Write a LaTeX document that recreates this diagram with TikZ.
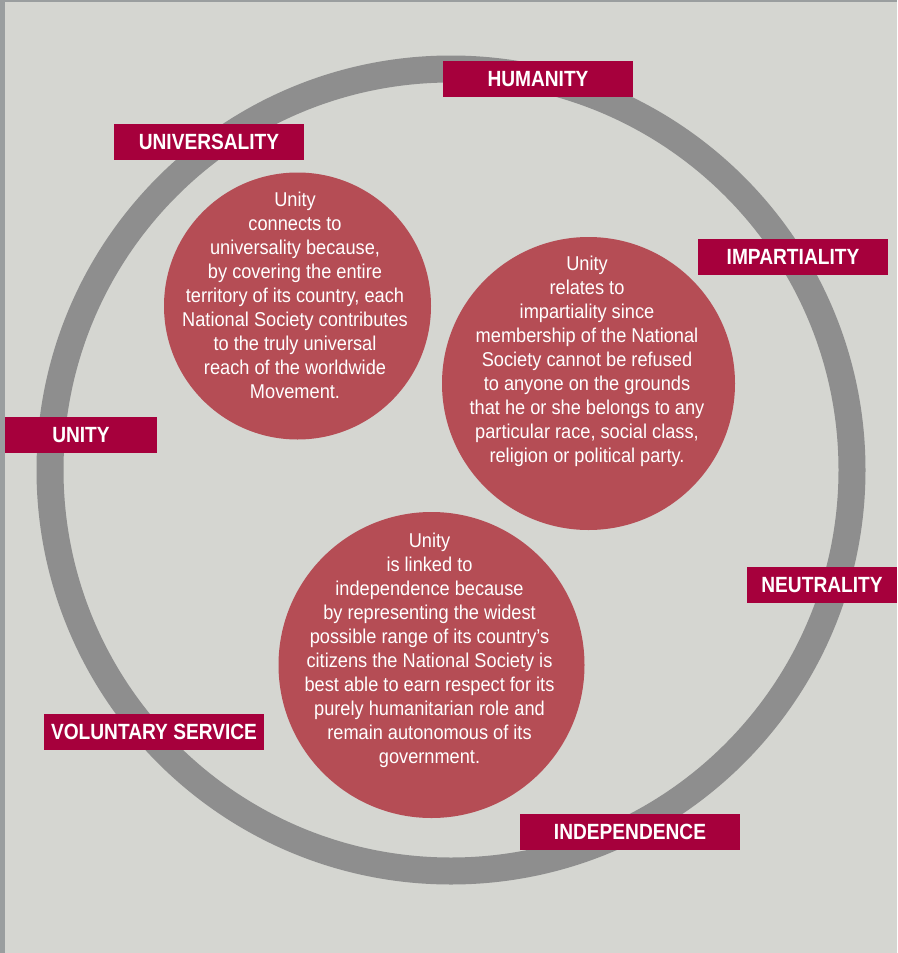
\documentclass[tikz,border=0pt]{standalone}
\usepackage{fontspec}
\newfontfamily\blurbfont{Liberation Sans}[FakeStretch=0.91]
\newfontfamily\tagfont{Liberation Sans}[FakeStretch=0.87]
\definecolor{paper}{HTML}{D5D6D1}
\definecolor{rim}{HTML}{9A9E9F}
\definecolor{ringgrey}{HTML}{8E8E8E}
\definecolor{bubblered}{HTML}{B54D55}
\definecolor{tagred}{HTML}{A6003C}

\begin{document}
\begin{tikzpicture}
            [x=1pt, y=-1pt,
            bubble/.style={circle, fill=bubblered, inner sep=0pt},
            blurb/.style={text=white, align=center, inner sep=0pt, anchor=north,
            font=\blurbfont\fontsize{20}{24}\selectfont},
            tag/.style={fill=tagred, text=white, inner sep=0pt,
            minimum height=36pt, text depth=0pt,
            font=\tagfont\bfseries\fontsize{22}{26}\selectfont},
            ring/.style={draw=ringgrey, line width=27pt}]
            \fill[paper] (0,0) rectangle (897,953);
            \fill[rim] (0,0) rectangle (5,953);
            \fill[rim] (0,0) rectangle (897,2);
            \coordinate (hub) at (451,470);
            \draw[ring] (hub) circle[radius=401pt];
            \node[bubble, minimum size=267pt] (univ) at (297.5,306) {};
            \node[bubble, minimum size=293pt] (impart) at (588.5,383.5) {};
            \node[bubble, minimum size=306pt] (indep) at (431.5,665) {};
            \node[blurb] (univtext) at (295,191.7) {Unity\\connects to\\universality because,\\
                by covering the entire\\territory of its country, each\\
                National Society contributes\\to the truly universal\\
                reach of the worldwide\\Movement.};
            \node[blurb] (imparttext) at (587,255.7) {Unity\\relates to\\impartiality since\\
                membership of the National\\Society cannot be refused\\
                to anyone on the grounds\\that he or she belongs to any\\
                particular race, social class,\\religion or political party.};
            \node[blurb] (indeptext) at (429.5,532.7) {Unity\\is linked to\\independence because\\
                by representing the widest\\possible range of its country’s\\
                citizens the National Society is\\best able to earn respect for its\\
                purely humanitarian role and\\remain autonomous of its\\government.};
            \node[tag, minimum width=190pt] (humanity) at (538,79) {HUMANITY};
            \node[tag, minimum width=190pt] (universality) at (209,142) {UNIVERSALITY};
            \node[tag, minimum width=190pt] (impartiality) at (793,257) {IMPARTIALITY};
            \node[tag, minimum width=152pt] (unity) at (81,435) {UNITY};
            \node[tag, minimum width=150pt] (neutrality) at (822,585) {NEUTRALITY};
            \node[tag, minimum width=220pt] (voluntary) at (154,732) {VOLUNTARY SERVICE};
            \node[tag, minimum width=220pt] (independence) at (630,832) {INDEPENDENCE};
            \end{tikzpicture}
\end{document}
